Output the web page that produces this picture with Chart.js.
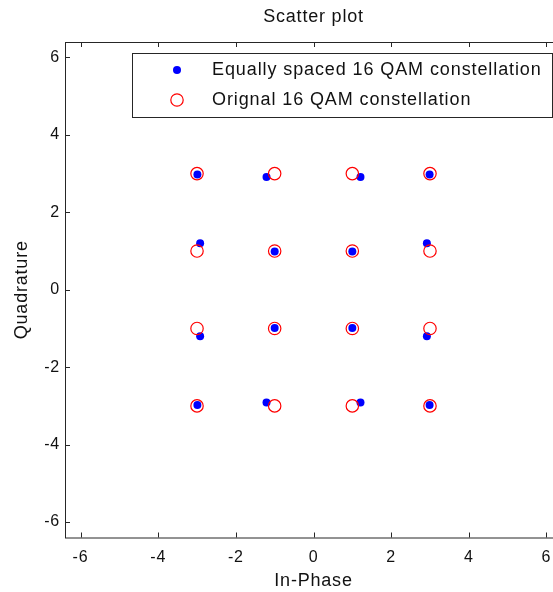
<!DOCTYPE html>
<html>
<head>
<meta charset="utf-8">
<title>Scatter plot</title>
<script src="https://cdn.jsdelivr.net/npm/chart.js@4.4.0/dist/chart.umd.min.js"></script>
<style>
  html, body { margin: 0; padding: 0; overflow: hidden; background: #fff; }
  #wrap { width: 600px; height: 592px; }
</style>
</head>
<body>
<div id="wrap"><canvas id="scatter"></canvas></div>
<script>
const axisTicks = [-6, -4, -2, 0, 2, 4, 6]

const legendLabels = ['Equally spaced 16 QAM constellation', 'Orignal 16 QAM constellation']

// equally spaced constellation points (blue dots)
const equalI = [-2.99, -1.21, 1.21, 2.99, -2.92, -1.0, 1.0, 2.92, -2.92, -1.0, 1.0, 2.92, -2.99, -1.21, 1.21, 2.99]
const equalQ = [2.98, 2.91, 2.91, 2.98, 1.2, 0.99, 0.99, 1.2, -1.2, -0.99, -0.99, -1.2, -2.98, -2.91, -2.91, -2.98]

// original square 16 QAM grid (red circles)
const origI = [-3, -1, 1, 3, -3, -1, 1, 3, -3, -1, 1, 3, -3, -1, 1, 3]
const origQ = [3, 3, 3, 3, 1, 1, 1, 1, -1, -1, -1, -1, -3, -3, -3, -3]

const toPoints = (xs, ys) => xs.map((x, i) => ({ x, y: ys[i] }))

const ink = '#111'
const axisColor = '#262626'
Chart.defaults.font.family = '"Liberation Sans", Arial, Helvetica, sans-serif'
Chart.defaults.color = ink

// box round the axes, inward ticks on every side, legend inside the plot
const matlabAxes = {
  id: 'matlabAxes',
  beforeDraw(chart) {
    chart.ctx.letterSpacing = '0.8px'
  },
  afterDraw(chart) {
    const { ctx, chartArea: a, scales: { x, y } } = chart
    ctx.save()
    ctx.letterSpacing = '0px'
    ctx.strokeStyle = axisColor
    ctx.lineWidth = 1
    ctx.strokeRect(a.left + 0.5, a.top + 0.5, a.right - a.left, a.bottom - a.top)
    ctx.beginPath()
    axisTicks.forEach(v => {
      const px = Math.round(x.getPixelForValue(v)) + 0.5
      ctx.moveTo(px, a.bottom); ctx.lineTo(px, a.bottom - 5)
      ctx.moveTo(px, a.top); ctx.lineTo(px, a.top + 5)
      const py = Math.round(y.getPixelForValue(v)) + 0.5
      ctx.moveTo(a.left, py); ctx.lineTo(a.left + 5, py)
      ctx.moveTo(a.right, py); ctx.lineTo(a.right - 5, py)
    })
    ctx.stroke()

    // legend
    const lx = a.left + 67, ly = a.top + 11
    const lw = a.right - 10 - lx, lh = 64
    ctx.fillStyle = '#fff'
    ctx.fillRect(lx, ly, lw, lh)
    ctx.strokeRect(lx + 0.5, ly + 0.5, lw, lh)
    const rows = [ly + 17, ly + 47]
    chart.data.datasets.forEach((ds, i) => {
      const mx = lx + 45, my = rows[i]
      ctx.beginPath()
      ctx.arc(mx, my, ds.pointRadius, 0, Math.PI * 2)
      if (ds.pointBorderWidth) {
        ctx.lineWidth = ds.pointBorderWidth
        ctx.strokeStyle = ds.pointBorderColor
        ctx.stroke()
      } else {
        ctx.fillStyle = ds.pointBackgroundColor
        ctx.fill()
      }
      ctx.fillStyle = ink
      ctx.font = '18px "Liberation Sans", Arial, sans-serif'
      ctx.letterSpacing = '0.9px'
      ctx.textBaseline = 'middle'
      ctx.textAlign = 'left'
      ctx.fillText(ds.label, lx + 80, my)
      ctx.letterSpacing = '0px'
    })
    ctx.restore()
  }
}

new Chart(document.getElementById('scatter'), {
  type: 'scatter',
  data: {
    datasets: [
      {
        label: legendLabels[0],
        data: toPoints(equalI, equalQ),
        pointRadius: 4,
        pointBackgroundColor: '#0000ff',
        pointBorderColor: '#0000ff',
        pointBorderWidth: 0,
        order: 2
      },
      {
        label: legendLabels[1],
        data: toPoints(origI, origQ),
        pointRadius: 6.2,
        pointBackgroundColor: 'rgba(0,0,0,0)',
        pointBorderColor: '#ff0000',
        pointBorderWidth: 1.2,
        order: 1
      }
    ]
  },
  options: {
    responsive: true,
    maintainAspectRatio: false,
    animation: false,
    events: [],
    layout: { padding: { right: 38 } },
    plugins: {
      legend: { display: false },
      tooltip: { enabled: false },
      title: {
        display: true,
        text: 'Scatter plot',
        fullSize: false,
        color: ink,
        font: { size: 18, weight: 'normal' },
        padding: { top: 6, bottom: 14.4 }
      }
    },
    scales: {
      x: {
        type: 'linear',
        min: -6.4,
        max: 6.4,
        afterBuildTicks: s => { s.ticks = axisTicks.map(v => ({ value: v })) },
        afterFit: s => { s.height = 54.5 },
        grid: { display: false, drawTicks: false },
        border: { display: false },
        ticks: { padding: 10, font: { size: 16 }, color: ink },
        title: { display: true, text: 'In-Phase', color: ink, font: { size: 18 }, padding: { top: 0, bottom: 0 } }
      },
      y: {
        type: 'linear',
        min: -6.4,
        max: 6.4,
        afterBuildTicks: s => { s.ticks = axisTicks.map(v => ({ value: v })) },
        afterFit: s => { s.width = 65 },
        grid: { display: false, drawTicks: false },
        border: { display: false },
        ticks: { padding: 5, font: { size: 16 }, color: ink },
        title: { display: true, text: 'Quadrature', color: ink, font: { size: 18 }, padding: { top: 11, bottom: 0 } }
      }
    }
  },
  plugins: [matlabAxes]
})
</script>
</body>
</html>
